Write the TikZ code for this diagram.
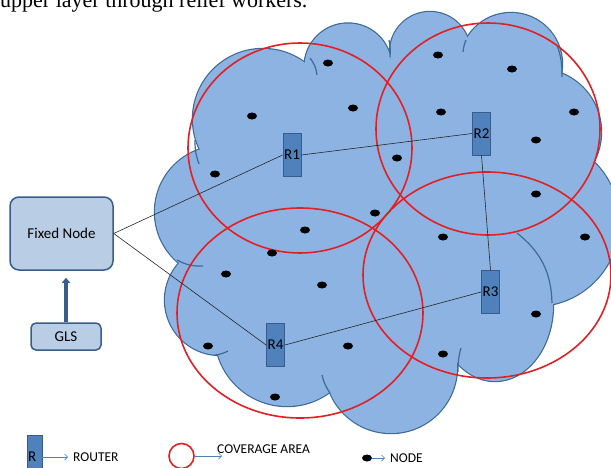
\documentclass[tikz,border=0pt]{standalone}
\usepackage{fontspec}
\setmainfont{Carlito}
\newfontfamily\capfont{Liberation Serif}
\usetikzlibrary{arrows.meta,shapes.geometric}
\definecolor{cloudblue}{RGB}{141,179,226}
\definecolor{cloudline}{RGB}{62,106,150}
\definecolor{routerblue}{RGB}{79,129,189}
\definecolor{boxline}{RGB}{56,93,138}
\definecolor{boxblue}{RGB}{185,205,229}
\definecolor{areared}{RGB}{226,32,36}
\tikzset{
  routerbox/.style={draw=boxline, fill=routerblue, line width=0.8pt, minimum width=18pt, minimum height=43pt, inner sep=0pt, font=\fontsize{15}{15}\selectfont},
  infobox/.style={draw=boxline, fill=boxblue, line width=1.5pt, rounded corners=9pt, inner sep=0pt, font=\fontsize{15}{15}\selectfont},
  coverarea/.style={draw=areared, line width=1.6pt},
  linkline/.style={line width=0.6pt, black!85},
  nodedot/.style={fill=black, ellipse, minimum width=10pt, minimum height=7pt, inner sep=0pt},
  keyarrow/.style={draw=routerblue, line width=0.7pt, -{Straight Barb[length=3pt,width=6pt]}},
  keytext/.style={font=\fontsize{13.5}{14}\selectfont, inner sep=0pt, anchor=west}
}
\def\lobes{263/119/70/70, 348/67/43.5/43.5, 430/52/40/40, 511/64/51/51, 538/132/63/63, 535/222/84/84, 495/305/58/76, 391/367/66/66, 287/334/72/72, 220/300/55/55, 221/212/66/66}

\begin{document}
\begin{tikzpicture}[x=1pt,y=-1pt]
\useasboundingbox (0,0) rectangle (611,467);
\node[anchor=base west, inner sep=0pt, font=\capfont\fontsize{22}{22}\selectfont] (caption) at (0,7) {upper layer through relief workers.};

\foreach \cx/\cy/\rx/\ry in \lobes
  \filldraw[fill=cloudblue, draw=cloudline, line width=2.4pt] (\cx,\cy) ellipse[x radius=\rx, y radius=\ry];
\fill[cloudblue] (263,119) -- (348,67) -- (430,52) -- (511,64) -- (538,132) -- (535,222) -- (495,305) -- (391,367) -- (287,334) -- (220,300) -- (221,212) -- cycle;
\foreach \cx/\cy/\rx/\ry in \lobes
  \fill[cloudblue] (\cx,\cy) ellipse[x radius=\rx, y radius=\ry];
\foreach \ax/\ay/\bx/\by/\bend in {195/140/199/164/-10, 177/260/203/266/-15, 215/355/228/351/-10, 322/375/330/393/-10, 461/348/458/372/-8, 517/233/552/303/25, 557/45/562/77/10, 389/40/390/57/8, 310/58/317/75/15, 466/40/463/52/-8}
  \draw[cloudline, line width=1.2pt] (\ax,\ay) to[bend left=\bend] (\bx,\by);

\foreach \cx/\cy/\rx/\ry in {300/148/112/105, 488/129/112/106, 300/313/123/105, 487/275/124/103}
  \draw[coverarea] (\cx,\cy) ellipse[x radius=\rx, y radius=\ry];

\foreach \x/\y [count=\i] in {328/63, 353/108, 252/116, 215/174, 375/213, 305/230, 438/55, 512/69, 441/112, 574/112, 536/140, 397/158, 536/194, 443/237, 585/237, 272/253, 226/274, 322/285, 208/346, 348/346, 275/397, 536/314, 443/354}
  \node[nodedot] (m\i) at (\x,\y) {};

\node[infobox, minimum width=103pt, minimum height=73pt] (fixed) at (61.5,233.5) {Fixed Node};
\node[infobox, minimum width=70pt, minimum height=27pt, rounded corners=5pt] (gls) at (66,336.5) {GLS};
\draw[boxline, line width=4pt, -{Triangle[length=5pt,width=8pt]}, shorten >=7pt] (gls.north) -- (gls.north |- fixed.south);

\foreach \n/\x/\y in {1/292/155, 2/481.5/133.5, 3/490.5/292, 4/275.5/345}
  \node[routerbox] (r\n) at (\x,\y) {R\n};
\draw[linkline] (fixed.east) -- (r1.west);
\draw[linkline] (fixed.east) -- (r4.west);
\draw[linkline] (r1.east) -- (r2.west);
\draw[linkline] (r2.south) -- (r3.north);
\draw[linkline] (r3.west) -- (r4.east);

\node[routerbox, minimum width=15pt, minimum height=44pt, inner xsep=1pt, text width=13pt, align=left] (keyr) at (34.5,457) {R};
\node[keytext] (keyrtext) at (73,457) {ROUTER};
\draw[keyarrow, shorten >=5pt] (keyr.east) -- (keyrtext.west);
\node[coverarea, circle, minimum size=25pt, inner sep=0pt] (keyc) at (181.5,456) {};
\coordinate (keycend) at (222,456);
\draw[keyarrow] (keyc.east) -- (keycend);
\node[keytext] (keyctext) at (217,449) {COVERAGE AREA};
\node[nodedot] (keyn) at (367,458) {};
\node[keytext] (keyntext) at (390,458) {NODE};
\draw[keyarrow, shorten >=5pt] (keyn.east) -- (keyntext.west);
\end{tikzpicture}
\end{document}
